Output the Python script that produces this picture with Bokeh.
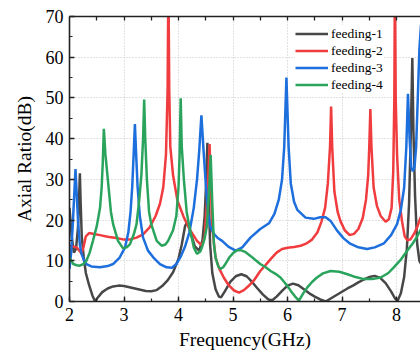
from bokeh.plotting import figure
from bokeh.models import Range1d, LinearAxis, SingleIntervalTicker, FixedTicker, Legend, LegendItem
from bokeh.embed import file_html
from bokeh.resources import INLINE

f1 = [2.00, 2.04, 2.08, 2.12, 2.155, 2.175, 2.19, 2.205, 2.225, 2.26, 2.30, 2.36, 2.42, 2.47, 2.52,
      2.60, 2.70, 2.80, 2.90, 3.00, 3.10, 3.20, 3.30, 3.40, 3.50, 3.60, 3.70, 3.80, 3.90, 4.00,
      4.06, 4.12, 4.16, 4.22, 4.30, 4.38, 4.44, 4.48, 4.51, 4.53, 4.55, 4.58, 4.62, 4.68, 4.74,
      4.78, 4.85, 4.95, 5.05, 5.15, 5.25, 5.35, 5.45, 5.55, 5.65, 5.72, 5.80, 5.90, 6.00, 6.10,
      6.20, 6.30, 6.40, 6.50, 6.60, 6.70, 6.80, 6.90, 7.00, 7.10, 7.20, 7.30, 7.40, 7.50, 7.60,
      7.70, 7.80, 7.90, 7.97, 8.02, 8.08, 8.14, 8.19, 8.23, 8.26, 8.29, 8.31, 8.34, 8.38, 8.42, 8.46]
ar1 = [23, 16, 12, 13, 18, 25, 31.5, 24, 16, 11, 7, 4, 1.5, 0, 1,
       2.3, 3.2, 3.7, 3.9, 3.8, 3.5, 3.2, 2.9, 2.6, 2.5, 2.8, 3.8, 5.2, 7.2, 10.5,
       14, 18.5, 19.5, 17, 13.5, 12.5, 15, 21, 30, 39, 28, 14, 7, 3, 1.2,
       1.0, 2.5, 4.8, 6.2, 6.7, 6.2, 4.8, 3.2, 1.7, 0.5, 0.3, 1.2, 2.6, 3.9, 4.4,
       4.0, 3.0, 2.0, 1.2, 0.5, 0, 0.8, 1.6, 2.4, 3.2, 3.9, 4.7, 5.4, 6.0, 6.3,
       5.8, 4.5, 2.5, 0.8, 0.2, 2, 6, 13, 24, 40, 59.8, 42, 26, 14, 10, 9]

f2 = [2.00, 2.06, 2.13, 2.18, 2.22, 2.26, 2.30, 2.36, 2.45, 2.56, 2.70, 2.86, 3.00, 3.10, 3.23,
      3.35, 3.47, 3.58, 3.66, 3.72, 3.77, 3.80, 3.815, 3.83, 3.85, 3.90, 3.98, 4.10, 4.22, 4.34,
      4.43, 4.48, 4.52, 4.555, 4.57, 4.59, 4.62, 4.68, 4.75, 4.83, 4.92, 5.02, 5.11, 5.20, 5.30,
      5.38, 5.50, 5.60, 5.69, 5.80, 5.90, 6.00, 6.12, 6.24, 6.34, 6.45, 6.55, 6.62, 6.69, 6.74,
      6.78, 6.80, 6.82, 6.86, 6.92, 6.97, 7.05, 7.14, 7.22, 7.30, 7.38, 7.44, 7.48, 7.50, 7.52,
      7.54, 7.58, 7.64, 7.71, 7.80, 7.86, 7.91, 7.94, 7.96, 7.97, 7.985, 8.01, 8.05, 8.10, 8.15,
      8.20, 8.26, 8.32, 8.38, 8.44, 8.46]
ar2 = [13.7, 13.5, 13.3, 12.5, 11.8, 13.5, 16, 16.8, 16.6, 16.3, 15.9, 15.6, 15.2, 15.2, 15.7,
       16.5, 18.2, 21, 24, 28, 36, 52, 80, 52, 38, 31, 24.8, 20.6, 17.4, 14.9,
       13.7, 16, 24, 33, 38.7, 30, 18, 10.8, 8, 5.9, 4, 2.7, 2.2, 2.8, 4,
       5.1, 7.5, 9, 10.4, 12, 12.9, 13.2, 13.4, 13.7, 14.2, 15.2, 17, 19.5, 23, 29,
       38, 47.9, 38, 27, 22, 19.8, 17.5, 16.3, 16.6, 17.8, 20.5, 25, 31, 38, 47.3,
       38, 28, 23.5, 21, 19.6, 20.2, 23, 32, 50, 80, 50, 36, 25, 19.8, 16,
       15, 15.3, 16.6, 18.3, 20.6, 21]

f3 = [2.00, 2.03, 2.06, 2.09, 2.11, 2.13, 2.16, 2.19, 2.22, 2.27, 2.31, 2.40, 2.56, 2.70, 2.80,
      2.92, 3.02, 3.08, 3.12, 3.15, 3.18, 3.20, 3.22, 3.25, 3.29, 3.35, 3.44, 3.54, 3.66, 3.78,
      3.88, 3.96, 4.04, 4.12, 4.20, 4.28, 4.34, 4.38, 4.42, 4.46, 4.50, 4.54, 4.58, 4.65, 4.72,
      4.80, 4.92, 5.05, 5.17, 5.32, 5.50, 5.66, 5.76, 5.84, 5.90, 5.94, 5.98, 6.02, 6.06, 6.12,
      6.18, 6.33, 6.48, 6.60, 6.70, 6.79, 6.91, 7.03, 7.15, 7.30, 7.46, 7.60, 7.77, 7.90, 8.01,
      8.08, 8.14, 8.18, 8.21, 8.24, 8.27, 8.30, 8.33, 8.36, 8.39, 8.42, 8.45]
ar3 = [8, 12, 19, 27, 32.5, 27, 19, 14, 11.7, 10, 9.2, 8.6, 8.4, 8.7, 9.2,
       10.8, 13.3, 17, 22, 28, 37, 43.6, 37, 28, 21, 15.7, 12.5, 10.8, 9.2, 8.4,
       8.3, 9.2, 11, 13.5, 17, 23, 30, 37, 45.7, 37, 29, 22, 18.5, 16.6, 15.6,
       14.9, 13.4, 12.5, 13.3, 15.7, 17.8, 19.2, 21.5, 25, 30, 38, 55, 38, 29, 24.5,
       22.5, 20.6, 20.3, 20.7, 20.7, 19.8, 17.4, 15.5, 14.2, 13.3, 12.9, 13.3, 14.3, 16.3, 19,
       22.5, 28, 38, 51, 40, 33, 32, 33, 38, 50, 62, 68]

f4 = [2.00, 2.07, 2.13, 2.19, 2.25, 2.31, 2.37, 2.43, 2.50, 2.56, 2.59, 2.61, 2.63, 2.66, 2.71,
      2.76, 2.80, 2.89, 2.98, 3.05, 3.11, 3.18, 3.23, 3.28, 3.32, 3.35, 3.37, 3.39, 3.42, 3.46,
      3.50, 3.60, 3.69, 3.76, 3.81, 3.90, 3.96, 4.00, 4.02, 4.04, 4.06, 4.10, 4.15, 4.19, 4.28,
      4.34, 4.40, 4.43, 4.48, 4.52, 4.56, 4.59, 4.62, 4.65, 4.68, 4.73, 4.77, 4.82, 4.86, 4.93,
      5.01, 5.08, 5.14, 5.22, 5.32, 5.40, 5.50, 5.60, 5.69, 5.78, 5.87, 5.95, 6.02, 6.06, 6.14,
      6.21, 6.28, 6.36, 6.45, 6.54, 6.65, 6.79, 6.95, 7.10, 7.25, 7.40, 7.55, 7.71, 7.85, 7.95,
      8.08, 8.20, 8.30, 8.38, 8.46]
ar4 = [10.8, 9.2, 8.9, 8.8, 9.2, 10, 12, 14.9, 18.5, 23, 28, 34, 42.4, 36, 29,
       22, 19, 14.9, 13.1, 13.3, 14.1, 16.5, 19, 25, 31.3, 40, 49.6, 40, 30, 22,
       19, 14.9, 13.7, 14, 14.9, 17.5, 21, 28, 36, 49.9, 38, 29.7, 22, 19, 13.3,
       11.7, 12.3, 13.3, 15.5, 18.5, 27, 36, 24, 14, 10.8, 8.6, 8, 8.4, 9.2, 10.8,
       12, 12.6, 12.6, 12.2, 11.2, 10.3, 9.2, 8.4, 7.5, 6.8, 5.9, 4.6, 3.4, 2.6, 1.2,
       0.2, 1.8, 3.4, 4.8, 5.9, 6.9, 7.5, 7.3, 6.7, 6.0, 5.5, 5.5, 5.9, 7.0, 8.4,
       10.3, 12.5, 14.3, 16, 18]

top_ticks = [2.5, 3, 3.5, 4, 4.5, 5, 5.5, 6, 6.5, 7, 7.5, 8]

series = [
    ("feeding-1", f1, ar1, "#474747"),
    ("feeding-2", f2, ar2, "#f03c3e"),
    ("feeding-3", f3, ar3, "#1c6fdc"),
    ("feeding-4", f4, ar4, "#2aa45c"),
]

FONT = "Liberation Serif"

p = figure(width=420, height=352, output_backend="svg", toolbar_location=None,
           x_range=Range1d(2, 8.44), y_range=Range1d(0, 70),
           min_border_left=69, min_border_right=0, min_border_top=16, min_border_bottom=51)
p.outline_line_color = None
p.background_fill_color = "white"

xt = SingleIntervalTicker(interval=1, num_minor_ticks=2)
yt = SingleIntervalTicker(interval=10, num_minor_ticks=2)
xax = p.xaxis[0]
yax = p.yaxis[0]
xax.ticker = xt
yax.ticker = yt

for ax in [xax, yax]:
    ax.axis_line_color = "#222222"
    ax.axis_line_width = 1.6
    ax.major_tick_line_color = "#222222"
    ax.minor_tick_line_color = "#222222"
    ax.major_tick_line_width = 1.4
    ax.minor_tick_line_width = 1.2
    ax.major_tick_in = 5
    ax.major_tick_out = 0
    ax.minor_tick_in = 3
    ax.minor_tick_out = 0
    ax.major_label_text_font = FONT
    ax.major_label_text_font_size = "18px"
    ax.major_label_text_color = "black"
    ax.axis_label_text_font = FONT
    ax.axis_label_text_font_size = "19.5px"
    ax.axis_label_text_font_style = "normal"
    ax.axis_label_text_color = "black"

xax.axis_label = "Frequency(GHz)"
yax.axis_label = "Axial Ratio(dB)"
xax.major_label_standoff = 6
xax.axis_label_standoff = 5
yax.major_label_standoff = 6
yax.axis_label_standoff = 8

p.xgrid[0].ticker = xt
p.ygrid[0].ticker = yt
for g in [p.xgrid[0], p.ygrid[0]]:
    g.grid_line_color = "#c4c4c4"
    g.grid_line_dash = "1 2"
    g.grid_line_width = 1

top = LinearAxis(ticker=FixedTicker(ticks=[], minor_ticks=top_ticks))
top.axis_line_color = "#222222"
top.axis_line_width = 1.6
top.minor_tick_line_color = "#222222"
top.minor_tick_line_width = 1.3
top.minor_tick_in = 4
top.minor_tick_out = 0
top.major_tick_in = 0
top.major_tick_out = 0
top.major_label_standoff = 0
p.add_layout(top, "above")

items = []
for name, fx, vy, col in series:
    r = p.line(fx, vy, line_color=col, line_width=2.5)
    items.append(LegendItem(label=name, renderers=[r]))

legend = Legend(items=items, location=(226, 208))
legend.label_text_font = FONT
legend.label_text_font_size = "13.5px"
legend.label_text_color = "black"
legend.glyph_width = 33
legend.glyph_height = 17
legend.label_height = 17
legend.label_standoff = 3
legend.spacing = 0
legend.padding = 5
legend.margin = 0
legend.border_line_color = None
legend.background_fill_color = "white"
legend.background_fill_alpha = 1
p.add_layout(legend, "center")

open("out.html", "w").write(file_html(p, INLINE))
